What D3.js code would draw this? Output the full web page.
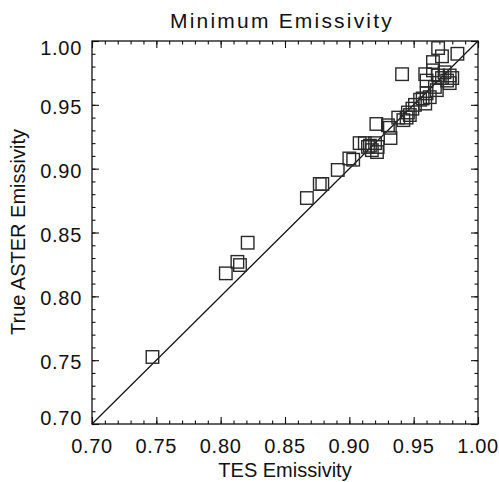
<!DOCTYPE html>
<html>
<head>
<meta charset="utf-8">
<script src="https://cdn.jsdelivr.net/npm/d3@7"></script>
<style>
body{margin:0;background:#fff;}
text{font-family:"Liberation Sans",Arial,sans-serif;fill:#111;}
</style>
</head>
<body>
<script>
// TES vs true ASTER emissivity
var tesEmis=[0.747,0.804,0.813,0.815,0.821,0.867,0.877,0.879,0.891,0.900,
             0.903,0.908,0.912,0.9145,0.916,0.9175,0.920,0.9215,0.922,0.921,
             0.930,0.932,0.9315,0.938,0.942,0.9445,0.9455,0.947,0.949,0.951,
             0.955,0.957,0.959,0.960,0.9625,0.9665,0.968,0.960,0.969,0.972,
             0.974,0.978,0.980,0.959,0.965,0.965,0.972,0.969,0.984,0.941,
             0.978,0.976]
var asterEmis=[0.7525,0.818,0.827,0.8245,0.842,0.877,0.888,0.888,0.899,0.908,
               0.907,0.920,0.920,0.917,0.918,0.9145,0.920,0.913,0.917,0.935,
               0.934,0.924,0.932,0.940,0.938,0.940,0.944,0.942,0.947,0.950,
               0.954,0.955,0.951,0.959,0.956,0.964,0.9615,0.969,0.973,0.971,
               0.9755,0.973,0.971,0.974,0.977,0.9835,0.988,0.9945,0.990,0.974,
               0.967,0.969]
var majorTicks=[0.70,0.75,0.80,0.85,0.90,0.95,1.00]
var minorTicks=d3.range(70,101).map(function(d){return d/100})
var titleText="Minimum Emissivity"
var xLabel="TES Emissivity"
var yLabel="True ASTER Emissivity"

var screen={width:499,height:482}
var plot={left:92,right:478,top:41,bottom:424}

var svg=d3.select("body").append("svg")
          .attr("width",screen.width)
          .attr("height",screen.height)

var x=d3.scaleLinear().domain([0.7,1.0]).range([plot.left,plot.right])
var y=d3.scaleLinear().domain([0.7,1.0]).range([plot.bottom,plot.top])
var fmt=d3.format(".2f")

//////////////////////////////////////////////////////
// ticks on all four sides, pointing inward
function tickAxis(axisFn,scale,vals,len,tx,ty){
  var g=svg.append("g")
           .attr("transform","translate("+tx+","+ty+")")
           .call(axisFn(scale).tickValues(vals).tickSize(-len).tickFormat(""))
  g.select(".domain").remove()
  g.selectAll("line").attr("stroke","#111").attr("stroke-width",1.1)
}
tickAxis(d3.axisBottom,x,minorTicks,3.5,0,plot.bottom)
tickAxis(d3.axisBottom,x,majorTicks,7,0,plot.bottom)
tickAxis(d3.axisTop,x,minorTicks,3.5,0,plot.top)
tickAxis(d3.axisTop,x,majorTicks,7,0,plot.top)
tickAxis(d3.axisLeft,y,minorTicks,3.5,plot.left,0)
tickAxis(d3.axisLeft,y,majorTicks,7,plot.left,0)
tickAxis(d3.axisRight,y,minorTicks,3.5,plot.right,0)
tickAxis(d3.axisRight,y,majorTicks,7,plot.right,0)

svg.append("rect")
   .attr("x",plot.left)
   .attr("y",plot.top)
   .attr("width",plot.right-plot.left)
   .attr("height",plot.bottom-plot.top)
   .attr("fill","none")
   .attr("stroke","#111")
   .attr("stroke-width",1.3)

// tick labels
svg.selectAll("text.xt")
   .data(majorTicks)
   .enter()
   .append("text")
   .attr("class","xt")
   .attr("x",function(d){return x(d)})
   .attr("y",453)
   .attr("text-anchor","middle")
   .style("font-size","20px")
   .style("letter-spacing","0.7px")
   .text(function(d){return fmt(d)})
// end labels are pulled inside the axis range, as in the original
svg.selectAll("text.yt")
   .data(majorTicks)
   .enter()
   .append("text")
   .attr("class","yt")
   .attr("x",82)
   .attr("y",function(d){
     if(d==1.00){return y(d)+14}
     else if(d==0.70){return y(d)+1}
     else{return y(d)+9}
   })
   .attr("text-anchor","end")
   .style("font-size","20px")
   .style("letter-spacing","0.7px")
   .text(function(d){return fmt(d)})

// one-to-one line
svg.append("line")
   .attr("x1",x(0.7)).attr("y1",y(0.7))
   .attr("x2",x(1.0)).attr("y2",y(1.0))
   .attr("stroke","#111")
   .attr("stroke-width",1.2)

// squares
var s=12.5
svg.selectAll("rect.pt")
   .data(tesEmis)
   .enter()
   .append("rect")
   .attr("class","pt")
   .attr("x",function(d){return x(d)-s/2})
   .attr("y",function(d,i){return y(asterEmis[i])-s/2})
   .attr("width",s)
   .attr("height",s)
   .attr("fill","none")
   .attr("stroke","#2a2a2a")
   .attr("stroke-width",1.4)

// titles
svg.append("text")
   .attr("x",282)
   .attr("y",28)
   .attr("text-anchor","middle")
   .style("font-size","21px")
   .style("letter-spacing","2.2px")
   .text(titleText)
svg.append("text")
   .attr("x",285)
   .attr("y",477)
   .attr("text-anchor","middle")
   .style("font-size","20px")
   .text(xLabel)
svg.append("text")
   .attr("transform","translate(25,232) rotate(-90)")
   .attr("text-anchor","middle")
   .style("font-size","20px")
   .text(yLabel)
</script>
</body>
</html>
